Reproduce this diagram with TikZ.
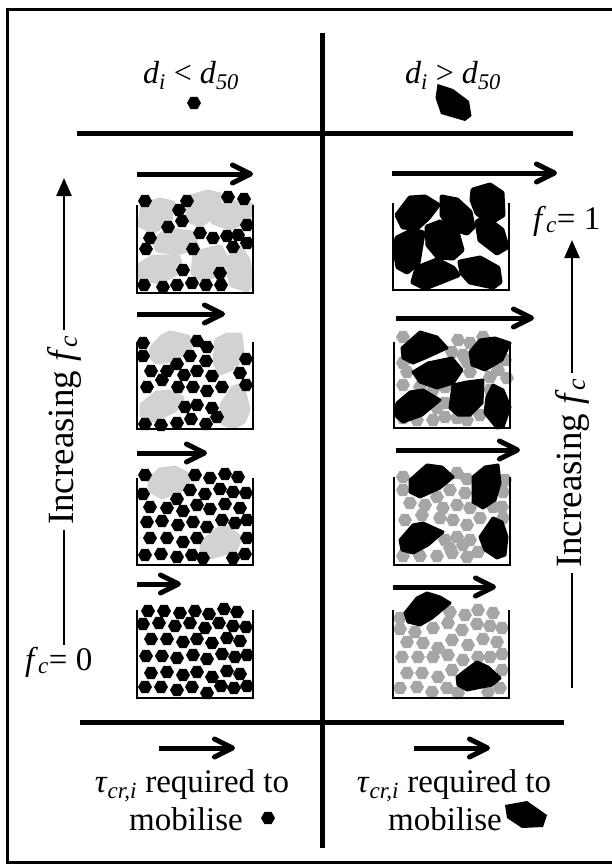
\documentclass[tikz,border=0pt]{standalone}
\usepackage{fontspec}
\setmainfont{Liberation Serif}
\usetikzlibrary{arrows.meta}
\newcommand\hexat[3]{\fill[#1] (#2,#3) +(0:7) -- +(60:7) -- +(120:7) -- +(180:7) -- +(240:7) -- +(300:7) -- cycle;}
\newcommand\fcsym{\textit{f}\textsubscript{\textit{c}}}
\begin{document}
\begin{tikzpicture}[x=1bp,y=-1bp,
  frame/.style={line width=3bp},
  divider/.style={line width=5bp},
  flowarrow/.style={line width=5bp,-{Straight Barb[length=18bp,width=18bp,round]}},
  axisline/.style={line width=2.5bp},
  axistip/.style={line width=2.5bp,-{Triangle[length=18bp,width=15bp]}},
  wall/.style={line width=2bp},
  lbl/.style={inner sep=0pt,font=\fontsize{33bp}{36bp}\selectfont},
  toplbl/.style={inner sep=0pt,font=\fontsize{32bp}{36bp}\selectfont},
  inclbl/.style={inner sep=5bp,rotate=90,font=\fontsize{37bp}{40bp}\selectfont},
  lgr/.style={fill=gray!35,draw=gray!35,line width=5bp,line join=round},
  blk/.style={fill=black,draw=black,line width=3bp,line join=round},
  blkbig/.style={fill=black,draw=black,line width=5bp,line join=round},
  blkicon/.style={fill=black}]
\useasboundingbox (0,0) rectangle (612,865);
\fill[white] (0,0) rectangle (612,865);
% frame
\draw[frame] (7.5,9) rectangle (616,862);
% dividers
\coordinate (vtop) at (322,33);
\coordinate (vbot) at (322,848);
\coordinate (h1a) at (77,133);
\coordinate (h1b) at (573,133);
\coordinate (h2a) at (80,722);
\coordinate (h2b) at (564,722);
\draw[divider] (vtop) -- (vbot);
\draw[divider] (h1a) -- (h1b);
\draw[divider] (h2a) -- (h2b);
% header
\node[toplbl,anchor=base] (hl) at (191,83) {\textit{d}\textsubscript{\textit{i}} < \textit{d}\textsubscript{\textit{50}}};
\node[toplbl,anchor=base] (hr) at (453,83) {\textit{d}\textsubscript{\textit{i}} > \textit{d}\textsubscript{\textit{50}}};
\hexat{black}{194}{103}
\fill[blkicon] (437.5,84) -- (453,89) -- (469,101) -- (471.5,116) -- (465,121) -- (441,114) -- (435.5,98) -- cycle;

% ===== Left column =====
% L1
\foreach \a/\b/\c/\d/\e/\f/\g/\h/\i/\j/\k/\l in {
 143/205/160/200/173/203/170/220/153/232/140/225,
 188/198/207/192/220/195/218/213/200/225/188/220,
 215/212/227/202/252/205/248/220/230/228/213/222,
 155/240/167/230/192/233/197/247/177/253/157/250,
 140/265/153/257/178/257/182/270/160/282/140/278,
 195/253/220/247/227/260/220/273/203/280/193/273}
 \filldraw[lgr] (\a,\b) -- (\c,\d) -- (\e,\f) -- (\g,\h) -- (\i,\j) -- (\k,\l) -- cycle;
\filldraw[lgr] (230,257) -- (240,248) -- (248,260) -- (252,283) -- (247,290) -- (232,285) -- (228,270) -- cycle;
\foreach \x/\y in {145/201,187/201,179/210,182/221,168/227,228/197,244/199,247/225,150/238,146/249,200/233,213/238,227/236,238/235,233/247,247/243,193/249,183/270,220/273,144/285,163/287,177/285,192/283,206/285,221/285}
 {\hexat{black}{\x}{\y}}
% L2
\filldraw[lgr] (152,348) -- (162,337) -- (170,333) -- (188,337) -- (190,348) -- (173,360) -- (157,362) -- (150,355) -- cycle;
\filldraw[lgr] (217,340) -- (227,335) -- (240,335) -- (242,353) -- (235,367) -- (220,373) -- (215,362) -- cycle;
\filldraw[lgr] (142,405) -- (157,393) -- (170,392) -- (182,398) -- (175,410) -- (153,420) -- (142,415) -- cycle;
\filldraw[lgr] (222,405) -- (233,388) -- (242,385) -- (248,410) -- (243,422) -- (233,427) -- (223,423) -- cycle;
\foreach \x/\y in {143/343,143/356,197/341,207/347,190/356,206/361,177/364,151/371,167/371,184/375,197/371,212/376,162/380,147/387,178/387,193/387,207/391,222/387,240/373,246/359,246/385,185/407,197/405,212/408,217/417,191/419,177/423,145/424,161/425,206/424}
 {\hexat{black}{\x}{\y}}
% L3
\filldraw[lgr] (150,480) -- (160,470) -- (175,468) -- (188,475) -- (187,487) -- (162,497) -- (150,490) -- cycle;
\filldraw[lgr] (202,543) -- (217,530) -- (228,528) -- (240,538) -- (235,550) -- (210,557) -- (202,553) -- cycle;
\foreach \x/\y in {145/475,195/475,210/478,225/474,238/477,143/494,190/490,205/494,220/489,233/492,246/493,150/507,167/508,177/499,183/511,197/505,210/509,225/504,240/508,147/522,162/521,178/525,193/522,207/527,222/520,235/523,247/520,150/538,167/538,183/542,197/538,247/538,145/555,161/554,177/557,192/555,203/558,233/558,245/554}
 {\hexat{black}{\x}{\y}}
% L4
\foreach \x/\y in {148/611,164/611,180/613,195/611,209/614,224/609,237/612,143/624,159/623,175/626,190/623,205/628,219/623,233/626,246/627,151/639,167/639,183/642,197/639,212/643,227/638,240/641,146/656,162/656,177/658,193/655,207/659,222/654,235/657,247/655,151/673,167/672,183/675,197/672,212/677,227/671,240/674,145/687,161/687,177/690,192/687,207/693,221/686,234/688,247/686}
 {\hexat{black}{\x}{\y}}

% ===== Right column =====
% R1
\filldraw[blkbig] (397,215) -- (410,198) -- (425,197) -- (438,205) -- (428,218) -- (417,228) -- (403,227) -- cycle;
\filldraw[blkbig] (442,197) -- (457,200) -- (470,212) -- (473,227) -- (467,233) -- (450,228) -- (442,215) -- cycle;
\filldraw[blkbig] (473,190) -- (490,185) -- (502,193) -- (503,215) -- (490,223) -- (477,213) -- (472,200) -- cycle;
\filldraw[blkbig] (397,238) -- (413,230) -- (423,233) -- (418,263) -- (407,272) -- (398,267) -- (395,250) -- cycle;
\filldraw[blkbig] (427,227) -- (440,222) -- (457,232) -- (462,250) -- (453,258) -- (438,257) -- (428,245) -- cycle;
\filldraw[blkbig] (477,222) -- (485,217) -- (502,230) -- (507,247) -- (497,253) -- (480,240) -- cycle;
\filldraw[blkbig] (417,268) -- (437,260) -- (453,268) -- (458,275) -- (438,283) -- (425,288) -- (413,282) -- cycle;
\filldraw[blkbig] (460,262) -- (480,258) -- (498,268) -- (500,282) -- (493,287) -- (470,282) -- (462,273) -- cycle;
% R2
\foreach \x/\y in {403/337,458/340,470/343,483/337,452/352,463/355,403/363,407/372,467/362,470/372,498/370,505/360,507/378,403/385,420/387,433/390,445/387,490/377,490/390,445/403,445/417,437/408,417/420,433/420,457/418,467/420,480/415,403/418,450/380}
 {\hexat{gray!70}{\x}{\y}}
\filldraw[blk] (402,348) -- (420,332) -- (437,337) -- (447,348) -- (425,358) -- (413,363) -- (403,358) -- cycle;
\filldraw[blk] (413,372) -- (428,363) -- (452,358) -- (462,370) -- (453,383) -- (437,388) -- (420,382) -- cycle;
\filldraw[blk] (470,352) -- (480,340) -- (495,338) -- (510,343) -- (502,360) -- (485,370) -- (472,365) -- cycle;
\filldraw[blk] (397,403) -- (410,392) -- (423,390) -- (440,400) -- (422,415) -- (403,422) -- (395,415) -- cycle;
\filldraw[blk] (453,385) -- (467,382) -- (483,380) -- (482,403) -- (470,415) -- (458,415) -- (450,408) -- cycle;
\filldraw[blk] (487,397) -- (493,385) -- (503,390) -- (510,407) -- (503,427) -- (497,428) -- (485,413) -- cycle;
% R3
\foreach \x/\y in {403/477,403/490,457/473,467/479,450/490,465/493,437/497,505/480,503/492,410/503,425/505,443/508,457/505,470/508,422/515,440/518,453/520,467/525,480/518,493/507,502/507,503/518,405/520,445/540,457/537,470/540,450/548,463/545,403/556,420/556,437/556,452/553,467/557,478/552}
 {\hexat{gray!70}{\x}{\y}}
\filldraw[blk] (410,480) -- (427,465) -- (442,467) -- (453,477) -- (440,488) -- (420,497) -- (410,492) -- cycle;
\filldraw[blk] (473,477) -- (485,467) -- (498,465) -- (500,483) -- (495,500) -- (483,508) -- (473,502) -- cycle;
\filldraw[blk] (400,540) -- (413,525) -- (423,523) -- (443,532) -- (428,545) -- (413,553) -- (402,550) -- cycle;
\filldraw[blk] (480,537) -- (493,518) -- (502,522) -- (507,537) -- (505,555) -- (497,558) -- (485,550) -- cycle;
% R4
\foreach \x/\y in {400/618,450/612,465/615,478/610,493/613,400/629,415/632,433/628,448/623,462/630,477/624,490/626,502/628,407/642,423/643,438/648,452/640,468/645,483/639,497/642,402/657,418/657,433/657,448/655,463/660,478/657,490/657,502/654,407/673,422/673,438/677,452/670,502/670,400/688,417/687,432/692,447/688,458/693,488/692,500/688}
 {\hexat{gray!70}{\x}{\y}}
\filldraw[blk] (405,613) -- (417,598) -- (427,593) -- (440,597) -- (450,603) -- (432,618) -- (420,625) -- (408,622) -- cycle;
\filldraw[blk] (457,677) -- (470,667) -- (477,662) -- (488,667) -- (500,678) -- (492,685) -- (467,690) -- (458,685) -- cycle;

% ===== containers =====
\foreach \xa/\xb/\yt/\yb in {137/253/205/293, 137/253/342/429, 137/253/478/565, 137/253/610/698,
  393/509/203/290, 394/510/342/428, 394/510/477/565, 393/509/610/698}
 \draw[wall] (\xa,\yt) -- (\xa,\yb) -- (\xb,\yb) -- (\xb,\yt);

% ===== flow arrows =====
\foreach \xa/\xb/\y in {137/253/174, 137/225/314, 137/207/453, 137/181/584,
  392/557/173, 396/534/318, 396/520/450, 393/496/587,
  159/235/748, 414/490/748}
 \draw[flowarrow] (\xa,\y) -- (\xb,\y);

% ===== increasing f_c axes =====
\coordinate (lbot) at (64,645);
\coordinate (ltip) at (64,178);
\node[inclbl] (linc) at (64,430) {Increasing \fcsym};
\draw[axisline] (lbot) -- (linc.west);
\draw[axistip] (linc.east) -- (ltip);
\node[lbl,anchor=base west] (f0) at (25,670) {\fcsym= 0};

\coordinate (rbot) at (572,688);
\coordinate (rtip) at (572,240);
\node[inclbl] (rinc) at (572,473) {Increasing \fcsym};
\draw[axisline] (rbot) -- (rinc.west);
\draw[axistip] (rinc.east) -- (rtip);
\node[lbl,anchor=base west] (f1) at (533,229) {\fcsym= 1};

% ===== bottom labels =====
\node[lbl,anchor=base] (bl1) at (192,792) {\textit{τ}\textsubscript{\textit{cr,i}} required to};
\node[lbl,anchor=base] (bl2) at (186,830) {mobilise};
\hexat{black}{268}{818}
\node[lbl,anchor=base] (br1) at (454,792) {\textit{τ}\textsubscript{\textit{cr,i}} required to};
\node[lbl,anchor=base] (br2) at (445,830) {mobilise};
\fill[blkicon] (505,805) -- (527,801) -- (547,815) -- (543,827) -- (522,828) -- (507,818) -- cycle;
\end{tikzpicture}
\end{document}
